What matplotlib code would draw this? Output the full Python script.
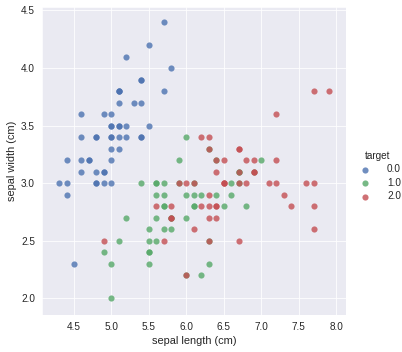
import matplotlib
matplotlib.use('Agg')
import matplotlib.pyplot as plt
import seaborn as sns

sns.set_style('darkgrid')
plt.rcParams['font.family'] = ['Liberation Sans', 'DejaVu Sans']

TARGETS = ['0.0', '1.0', '2.0']
COLORS = ['#4C72B0', '#55A868', '#C44E52']

# iris sepal length / width per class
setosa_len = [5.1, 4.9, 4.7, 4.6, 5.0, 5.4, 4.6, 5.0, 4.4, 4.9, 5.4, 4.8, 4.8, 4.3, 5.8, 5.7, 5.4,
              5.1, 5.7, 5.1, 5.4, 5.1, 4.6, 5.1, 4.8, 5.0, 5.0, 5.2, 5.2, 4.7, 4.8, 5.4, 5.2, 5.5,
              4.9, 5.0, 5.5, 4.9, 4.4, 5.1, 5.0, 4.5, 4.4, 5.0, 5.1, 4.8, 5.1, 4.6, 5.3, 5.0]
setosa_wid = [3.5, 3.0, 3.2, 3.1, 3.6, 3.9, 3.4, 3.4, 2.9, 3.1, 3.7, 3.4, 3.0, 3.0, 4.0, 4.4, 3.9,
              3.5, 3.8, 3.8, 3.4, 3.7, 3.6, 3.3, 3.4, 3.0, 3.4, 3.5, 3.4, 3.2, 3.1, 3.4, 4.1, 4.2,
              3.1, 3.2, 3.5, 3.6, 3.0, 3.4, 3.5, 2.3, 3.2, 3.5, 3.8, 3.0, 3.8, 3.2, 3.7, 3.3]
versicolor_len = [7.0, 6.4, 6.9, 5.5, 6.5, 5.7, 6.3, 4.9, 6.6, 5.2, 5.0, 5.9, 6.0, 6.1, 5.6, 6.7, 5.6,
                  5.8, 6.2, 5.6, 5.9, 6.1, 6.3, 6.1, 6.4, 6.6, 6.8, 6.7, 6.0, 5.7, 5.5, 5.5, 5.8, 6.0,
                  5.4, 6.0, 6.7, 6.3, 5.6, 5.5, 5.5, 6.1, 5.8, 5.0, 5.6, 5.7, 5.7, 6.2, 5.1, 5.7]
versicolor_wid = [3.2, 3.2, 3.1, 2.3, 2.8, 2.8, 3.3, 2.4, 2.9, 2.7, 2.0, 3.0, 2.2, 2.9, 2.9, 3.1, 3.0,
                  2.7, 2.2, 2.5, 3.2, 2.8, 2.5, 2.8, 2.9, 3.0, 2.8, 3.0, 2.9, 2.6, 2.4, 2.4, 2.7, 2.7,
                  3.0, 3.4, 3.1, 2.3, 3.0, 2.5, 2.6, 3.0, 2.6, 2.3, 2.7, 3.0, 2.9, 2.9, 2.5, 2.8]
virginica_len = [6.3, 5.8, 7.1, 6.3, 6.5, 7.6, 4.9, 7.3, 6.7, 7.2, 6.5, 6.4, 6.8, 5.7, 5.8, 6.4, 6.5,
                 7.7, 7.7, 6.0, 6.9, 5.6, 7.7, 6.3, 6.7, 7.2, 6.2, 6.1, 6.4, 7.2, 7.4, 7.9, 6.4, 6.3,
                 6.1, 7.7, 6.3, 6.4, 6.0, 6.9, 6.7, 6.9, 5.8, 6.8, 6.7, 6.7, 6.3, 6.5, 6.2, 5.9]
virginica_wid = [3.3, 2.7, 3.0, 2.9, 3.0, 3.0, 2.5, 2.9, 2.5, 3.6, 3.2, 2.7, 3.0, 2.5, 2.8, 3.2, 3.0,
                 3.8, 2.6, 2.2, 3.2, 2.8, 2.8, 2.7, 3.3, 3.2, 2.8, 3.0, 2.8, 3.0, 2.8, 3.8, 2.8, 2.8,
                 2.6, 3.0, 3.4, 3.1, 3.0, 3.1, 3.1, 3.1, 2.7, 3.2, 3.3, 3.0, 2.5, 3.0, 3.4, 3.0]

series = [(setosa_len, setosa_wid), (versicolor_len, versicolor_wid), (virginica_len, virginica_wid)]

fig = plt.figure(figsize=(402 / 72, 352 / 72), dpi=72)
ax = fig.add_axes([42 / 402, 1 - 315 / 352, 304 / 402, 308 / 352])

for (xs, ys), lab, col in zip(series, TARGETS, COLORS):
    ax.scatter(xs, ys, s=38, c=col, alpha=0.8, linewidths=0, label=lab)

ax.set_xlim(4.073, 8.13)
ax.set_ylim(1.855, 4.53)
ax.set_xticks([4.5, 5.0, 5.5, 6.0, 6.5, 7.0, 7.5, 8.0])
ax.set_yticks([2.0, 2.5, 3.0, 3.5, 4.0, 4.5])
ax.tick_params(axis='both', length=0, labelsize=10, colors='#262626', pad=7)
ax.set_xlabel('sepal length (cm)', fontsize=11, color='#262626')
ax.set_ylabel('sepal width (cm)', fontsize=11, color='#262626')

leg = fig.legend(title='target', loc='center left', bbox_to_anchor=(346 / 402, 0.5),
                 frameon=False, fontsize=10, title_fontsize=10, handletextpad=1.2,
                 markerscale=1.0, labelspacing=0.35)

fig.savefig('out.png', dpi=72)
plt.close()
